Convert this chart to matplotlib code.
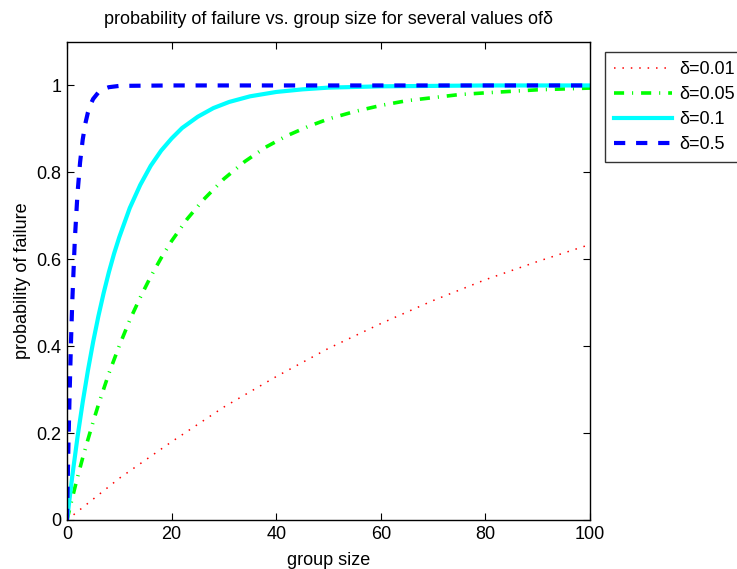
import matplotlib
matplotlib.use("Agg")
import matplotlib.pyplot as plt

plt.rcParams["font.family"] = ["Liberation Sans", "DejaVu Sans"]

# values
x_001 = [0, 10, 20, 30, 40, 50, 60, 70, 80, 90, 100]
y_001 = [0, 0.096, 0.18, 0.26, 0.33, 0.395, 0.452, 0.505, 0.553, 0.595, 0.634]

x_005 = [0, 1, 2, 3, 4, 5, 6, 8, 10, 12, 14, 16, 18, 20, 23, 26, 30, 34,
         38, 42, 46, 50, 55, 60, 65, 70, 75, 80, 90, 100]
y_005 = [0, 0.05, 0.098, 0.143, 0.185, 0.226, 0.265, 0.337, 0.401, 0.46,
         0.512, 0.56, 0.603, 0.642, 0.693, 0.736, 0.785, 0.825, 0.858, 0.884,
         0.905, 0.923, 0.94, 0.954, 0.965, 0.972, 0.979, 0.983, 0.99, 0.994]

x_01 = [0, 1, 2, 3, 4, 5, 6, 7, 8, 9, 10, 12, 14, 16, 18, 20, 22, 25, 28,
        31, 35, 40, 45, 50, 60, 70, 80, 100]
y_01 = [0, 0.1, 0.19, 0.271, 0.344, 0.41, 0.469, 0.522, 0.57, 0.613, 0.651,
        0.718, 0.771, 0.815, 0.85, 0.878, 0.902, 0.928, 0.948, 0.962, 0.975,
        0.985, 0.991, 0.995, 0.998, 0.999, 1.0, 1.0]

x_05 = [0, 0.25, 0.5, 0.75, 1, 1.5, 2, 2.5, 3, 3.5, 4, 4.5, 5, 6, 7, 8, 10,
        20, 50, 100]
y_05 = [0, 0.16, 0.29, 0.405, 0.5, 0.646, 0.75, 0.823, 0.875, 0.912, 0.938,
        0.956, 0.969, 0.984, 0.992, 0.996, 0.999, 1.0, 1.0, 1.0]

y_ticks = [0, 0.2, 0.4, 0.6, 0.8, 1]
y_tick_labels = ["0", "0.2", "0.4", "0.6", "0.8", "1"]
x_ticks = [0, 20, 40, 60, 80, 100]

fig = plt.figure(figsize=(7.37, 5.69), dpi=100)
ax = fig.add_axes([67 / 737, 49 / 569, 523 / 737, 478 / 569])

ax.plot(x_001, y_001, color="red", linestyle=(0, (1, 4.5)), linewidth=1.1,
        label="δ=0.01")
ax.plot(x_005, y_005, color="#00ff00", linestyle=(0, (2.8, 2.2, 0.3, 2.2)),
        linewidth=2.6, label="δ=0.05")
ax.plot(x_01, y_01, color="cyan", linestyle="-", linewidth=3.0, label="δ=0.1")
ax.plot(x_05, y_05, color="blue", linestyle=(0, (2.7, 2.6)), linewidth=3.0,
        label="δ=0.5")

ax.set_xlim(0, 100)
ax.set_ylim(0, 1.1)
ax.set_xticks(x_ticks)
ax.set_yticks(y_ticks)
ax.set_yticklabels(y_tick_labels)
ax.tick_params(direction="in", top=True, right=True, length=5, width=0.8,
               labelsize=13, pad=4)
for s in ax.spines.values():
    s.set_linewidth(1.0)

ax.set_xlabel("group size", fontsize=13, labelpad=7)
ax.set_ylabel("probability of failure", fontsize=13, labelpad=4)
ax.set_title("probability of failure vs. group size for several values ofδ",
             fontsize=13, pad=13)

leg = ax.legend(loc="upper left", bbox_to_anchor=(605 / 737, 1 - 52 / 569),
                bbox_transform=fig.transFigure, fontsize=13, frameon=True,
                fancybox=False, edgecolor="black", handlelength=3.2,
                handletextpad=0.4, labelspacing=0.45, borderpad=0.5,
                borderaxespad=0)
leg.get_frame().set_linewidth(1.0)

fig.savefig("out.png", dpi=100)
